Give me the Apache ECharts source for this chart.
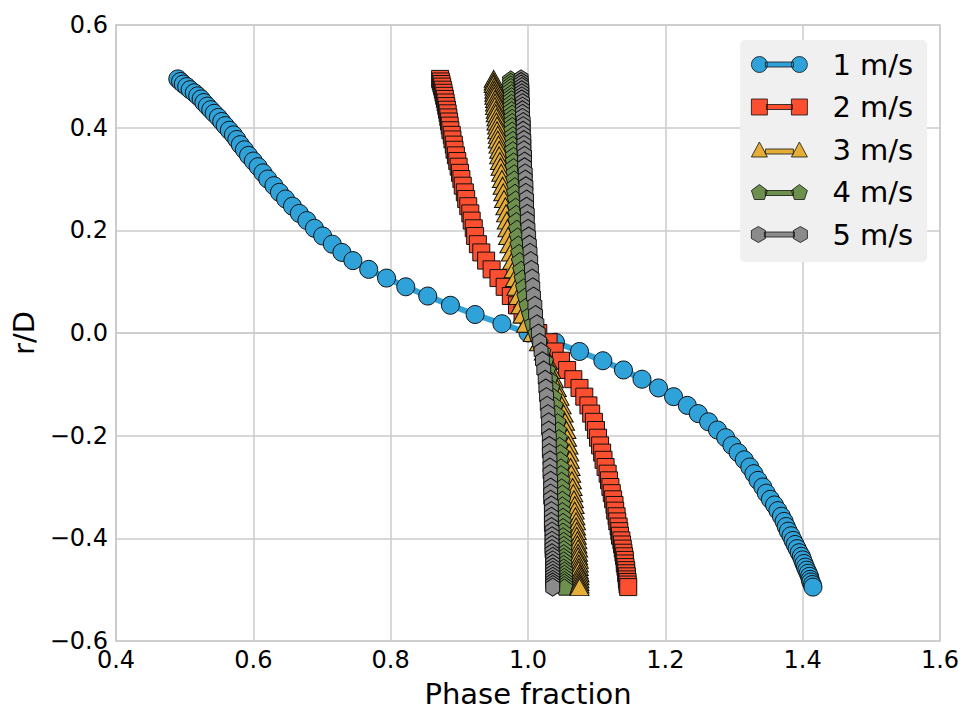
<!DOCTYPE html>
<html>
<head>
<meta charset="utf-8">
<title>Phase fraction profiles</title>
<script src="https://cdn.jsdelivr.net/npm/echarts@6/dist/echarts.min.js"></script>
<style>
  html, body { margin: 0; padding: 0; background: #fff; }
  #chart { width: 965px; height: 713px; }
</style>
</head>
<body>
<div id="chart"></div>
<script>
// radial positions (shared by all profiles), top wall -> bottom wall
const rD = [
  0.495, 0.490, 0.485, 0.480, 0.474, 0.468, 0.462, 0.456, 0.449, 0.442, 0.435, 0.428, 0.420, 0.412, 0.404,
  0.395, 0.386, 0.377, 0.367, 0.357, 0.346, 0.335, 0.324, 0.312, 0.300, 0.287, 0.274, 0.261, 0.247, 0.233,
  0.219, 0.204, 0.189, 0.173, 0.157, 0.141, 0.124, 0.107, 0.090, 0.072, 0.054, 0.036, 0.018,
  0,
  -0.018, -0.036, -0.054, -0.072, -0.090, -0.107, -0.124, -0.141, -0.157, -0.173, -0.189, -0.204, -0.219,
  -0.233, -0.247, -0.261, -0.274, -0.287, -0.300, -0.312, -0.324, -0.335, -0.346, -0.357, -0.367, -0.377,
  -0.386, -0.395, -0.404, -0.412, -0.420, -0.428, -0.435, -0.442, -0.449, -0.456, -0.462, -0.468, -0.474,
  -0.480, -0.485, -0.490, -0.495
]

// phase fraction for each velocity, same order as rD
const v1 = [
  0.490, 0.494, 0.498, 0.503, 0.508, 0.514, 0.519, 0.524, 0.528, 0.533, 0.538, 0.543, 0.549, 0.554, 0.559,
  0.565, 0.571, 0.576, 0.581, 0.587, 0.593, 0.600, 0.607, 0.614, 0.621, 0.630, 0.638, 0.647, 0.657, 0.667,
  0.678, 0.689, 0.701, 0.715, 0.729, 0.745, 0.768, 0.794, 0.822, 0.854, 0.887, 0.923, 0.962,
  1.000,
  1.040, 1.075, 1.109, 1.139, 1.166, 1.190, 1.212, 1.232, 1.248, 1.263, 1.276, 1.288, 1.297,
  1.306, 1.315, 1.323, 1.329, 1.335, 1.342, 1.347, 1.353, 1.359, 1.364, 1.369, 1.373, 1.376,
  1.379, 1.383, 1.386, 1.389, 1.392, 1.395, 1.398, 1.400, 1.402, 1.404, 1.406, 1.408, 1.410,
  1.411, 1.412, 1.414, 1.415
]
const v2 = [
  0.872, 0.873, 0.874, 0.875, 0.876, 0.877, 0.878, 0.879, 0.880, 0.881, 0.882, 0.883, 0.884, 0.885, 0.886,
  0.887, 0.889, 0.890, 0.892, 0.893, 0.895, 0.897, 0.899, 0.901, 0.903, 0.905, 0.908, 0.910, 0.913, 0.916,
  0.918, 0.921, 0.923, 0.927, 0.932, 0.939, 0.947, 0.957, 0.966, 0.975, 0.984, 0.992, 1.001,
  1.015,
  1.030, 1.039, 1.048, 1.057, 1.066, 1.075, 1.082, 1.088, 1.092, 1.096, 1.099, 1.102, 1.105,
  1.108, 1.110, 1.113, 1.116, 1.118, 1.120, 1.122, 1.124, 1.126, 1.127, 1.129, 1.130, 1.132,
  1.133, 1.134, 1.136, 1.137, 1.138, 1.139, 1.140, 1.141, 1.141, 1.142, 1.143, 1.143, 1.144,
  1.144, 1.145, 1.145, 1.146
]
const v3 = [
  0.950, 0.950, 0.950, 0.951, 0.951, 0.951, 0.951, 0.952, 0.952, 0.952, 0.953, 0.953, 0.954, 0.954, 0.955,
  0.955, 0.956, 0.956, 0.957, 0.958, 0.958, 0.959, 0.960, 0.961, 0.962, 0.963, 0.964, 0.965, 0.967, 0.968,
  0.969, 0.970, 0.971, 0.973, 0.975, 0.977, 0.979, 0.981, 0.983, 0.986, 0.989, 0.992, 0.997,
  1.007,
  1.016, 1.023, 1.029, 1.034, 1.038, 1.042, 1.046, 1.049, 1.052, 1.054, 1.056, 1.057, 1.059,
  1.060, 1.061, 1.062, 1.063, 1.064, 1.065, 1.066, 1.067, 1.068, 1.068, 1.069, 1.070, 1.070,
  1.071, 1.071, 1.072, 1.072, 1.073, 1.073, 1.073, 1.074, 1.074, 1.074, 1.074, 1.075, 1.075,
  1.075, 1.075, 1.075, 1.075
]
const v4 = [
  0.975, 0.975, 0.975, 0.975, 0.975, 0.976, 0.976, 0.976, 0.976, 0.976, 0.976, 0.977, 0.977, 0.977, 0.977,
  0.977, 0.978, 0.978, 0.978, 0.978, 0.979, 0.979, 0.979, 0.980, 0.980, 0.981, 0.981, 0.982, 0.982, 0.983,
  0.983, 0.984, 0.985, 0.986, 0.987, 0.988, 0.990, 0.992, 0.994, 0.996, 0.999, 1.003, 1.007,
  1.012,
  1.017, 1.021, 1.025, 1.028, 1.031, 1.034, 1.037, 1.039, 1.041, 1.043, 1.044, 1.045, 1.046,
  1.047, 1.047, 1.048, 1.048, 1.049, 1.049, 1.050, 1.050, 1.050, 1.050, 1.051, 1.051, 1.051,
  1.051, 1.051, 1.052, 1.052, 1.052, 1.052, 1.052, 1.052, 1.052, 1.052, 1.053, 1.053, 1.053,
  1.053, 1.053, 1.053, 1.053
]
const v5 = [
  0.990, 0.990, 0.990, 0.991, 0.991, 0.991, 0.991, 0.991, 0.992, 0.992, 0.992, 0.992, 0.992, 0.993, 0.993,
  0.993, 0.993, 0.994, 0.994, 0.994, 0.995, 0.995, 0.995, 0.996, 0.996, 0.997, 0.997, 0.998, 0.998, 0.999,
  0.999, 1.000, 1.001, 1.002, 1.003, 1.004, 1.005, 1.006, 1.007, 1.008, 1.010, 1.011, 1.013,
  1.015,
  1.017, 1.019, 1.021, 1.023, 1.025, 1.026, 1.027, 1.028, 1.029, 1.030, 1.030, 1.031, 1.031,
  1.031, 1.032, 1.032, 1.032, 1.033, 1.033, 1.033, 1.033, 1.034, 1.034, 1.034, 1.034, 1.034,
  1.035, 1.035, 1.035, 1.035, 1.035, 1.035, 1.036, 1.036, 1.036, 1.036, 1.036, 1.036, 1.036,
  1.036, 1.036, 1.036, 1.036
]

const names = ['1 m/s', '2 m/s', '3 m/s', '4 m/s', '5 m/s']
const colors = ['#30a2da', '#fc4f30', '#e5ae38', '#6d904f', '#8b8b8b']

const pentagon = 'path://M0,-1 L0.951,-0.309 L0.588,0.809 L-0.588,0.809 L-0.951,-0.309 Z'
const hexagon = 'path://M0,-1 L0.866,-0.5 L0.866,0.5 L0,1 L-0.866,0.5 L-0.866,-0.5 Z'
const markers = [
  { symbol: 'circle', size: 18 },
  { symbol: 'rect', size: 17 },
  { symbol: 'triangle', size: [19, 17] },
  { symbol: pentagon, size: 17 },
  { symbol: hexagon, size: [16, 18] }
]

// legend icons: marker - line - marker
const legendIcons = [
  'path://M0,8 A8,8 0 1 1 16,8 A8,8 0 1 1 0,8 Z M14,5.5 L42,5.5 L42,10.5 L14,10.5 Z M40,8 A8,8 0 1 1 56,8 A8,8 0 1 1 40,8 Z',
  'path://M0,0 L16,0 L16,16 L0,16 Z M15,5.5 L41,5.5 L41,10.5 L15,10.5 Z M40,0 L56,0 L56,16 L40,16 Z',
  'path://M0,16 L8,1 L16,16 Z M14,8 L42,8 L42,13 L14,13 Z M40,16 L48,1 L56,16 Z',
  'path://M8,1 L16,7 L13,16 L3,16 L0,7 Z M14,7 L42,7 L42,12 L14,12 Z M48,1 L56,7 L53,16 L43,16 L40,7 Z',
  'path://M7,0 L14,4 L14,12 L7,16 L0,12 L0,4 Z M13,5.5 L43,5.5 L43,10.5 L13,10.5 Z M49,0 L56,4 L56,12 L49,16 L42,12 L42,4 Z'
]

const profiles = [v1, v2, v3, v4, v5]
const fmt = v => (v < 0 ? '\u2212' : '') + Math.abs(v).toFixed(1)

const chart = echarts.init(document.getElementById('chart'), null, { renderer: 'svg' })

const option = {
  animation: false,
  backgroundColor: '#fff',
  textStyle: { fontFamily: 'DejaVu Sans' },
  grid: {
    left: 116,
    right: 25,
    top: 25,
    bottom: 72,
    outerBoundsMode: 'none',
    containLabel: false,
    show: true,
    borderColor: '#cbcbcb',
    borderWidth: 1.5
  },
  legend: {
    orient: 'vertical',
    left: 740,
    top: 40,
    padding: [10, 14, 13, 11],
    backgroundColor: '#f0f0f0',
    borderRadius: 5,
    itemWidth: 56,
    itemHeight: 16,
    itemGap: 13.5,
    selectedMode: false,
    textStyle: {
      fontSize: 29,
      color: '#000',
      lineHeight: 29,
      padding: [0, 0, 0, 20]
    },
    data: names.map((n, i) => ({
      name: n,
      icon: legendIcons[i],
      itemStyle: { color: colors[i], borderColor: '#111', borderWidth: 0.8 }
    }))
  },
  xAxis: {
    type: 'value',
    min: 0.4,
    max: 1.6,
    interval: 0.2,
    name: 'Phase fraction',
    nameLocation: 'middle',
    nameGap: 38,
    nameTextStyle: { fontSize: 29, color: '#000' },
    axisLine: { show: true, lineStyle: { color: '#cbcbcb', width: 1.5 } },
    axisTick: { show: false },
    axisLabel: { fontSize: 24, color: '#000', margin: 7, formatter: fmt },
    splitLine: { show: true, lineStyle: { color: '#cbcbcb', width: 1.5 } }
  },
  yAxis: {
    type: 'value',
    min: -0.6,
    max: 0.6,
    interval: 0.2,
    name: 'r/D',
    nameLocation: 'middle',
    nameGap: 77,
    nameTextStyle: { fontSize: 29, color: '#000' },
    axisLine: { show: true, lineStyle: { color: '#cbcbcb', width: 1.5 } },
    axisTick: { show: false },
    axisLabel: { fontSize: 24, color: '#000', margin: 8, formatter: fmt },
    splitLine: { show: true, lineStyle: { color: '#cbcbcb', width: 1.5 } }
  },
  series: profiles.map((xs, i) => ({
    name: names[i],
    type: 'line',
    data: xs.map((x, k) => [x, rD[k]]),
    symbol: markers[i].symbol,
    symbolSize: markers[i].size,
    symbolKeepAspect: true,
    showSymbol: true,
    lineStyle: { color: colors[i], width: 6 },
    itemStyle: { color: colors[i], borderColor: '#111', borderWidth: 1, opacity: 1 },
    emphasis: { disabled: true },
    z: 2 + i
  }))
}

chart.setOption(option)
</script>
</body>
</html>
